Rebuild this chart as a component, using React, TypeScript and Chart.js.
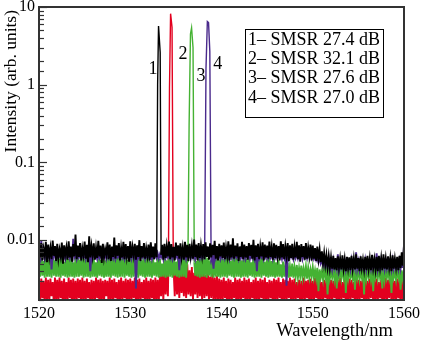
import React, { useEffect, useRef } from "react";
import { Chart, registerables } from "chart.js";

Chart.register(...registerables);

// ---- Data ----
// Noise floors sampled every 0.125 nm from 1520 nm, values in units of 1e-4 (arb. units)
const wavelengthStart = 1520;
const wavelengthStep = 0.125;
const noiseUnit = 1e-4;
const xTicks = [1520, 1530, 1540, 1550, 1560];
const yMajorTicks = [0.01, 0.1, 1, 10];
const smsrValues = [27.4, 32.1, 27.6, 27.0];
const seriesColors = ["#000000", "#e3001f", "#45b233", "#4a2a8c"];

const blackNoise = [
  85,60,92,55,78,64,95,52,88,61,80,57,99,63,84,54,
  90,58,76,62,93,50,86,65,81,56,97,60,83,53,89,62,
  118,57,85,61,92,55,79,64,96,58,87,52,112,60,84,63,
  91,56,80,59,98,62,85,51,90,60,77,65,94,57,88,54,
  83,61,108,58,86,63,92,55,80,60,95,57,89,62,84,53,
  97,59,82,64,90,56,86,61,100,54,84,60,92,58,79,63,
  88,55,94,60,83,57,91,62,85,58,93,61,87,56,90,59,
  84,62,96,57,89,60,82,55,93,63,86,58,91,61,80,56,
  95,60,87,54,90,62,84,58,102,61,88,55,92,59,85,63,
  89,57,94,61,83,56,91,60,87,64,98,58,84,55,90,62,
  86,59,93,57,81,63,97,55,88,60,106,58,85,62,91,54,
  83,61,95,57,88,60,84,56,92,63,87,58,101,55,86,61,
  90,57,83,62,94,55,88,60,85,58,96,61,82,56,91,59,
  87,62,84,55,97,60,89,57,83,63,92,54,86,59,90,56,
  81,60,95,57,86,53,89,61,84,56,92,58,80,62,88,55,
  85,58,79,54,83,57,76,52,72,50,68,48,64,45,62,44,
  60,43,63,42,59,41,62,44,58,42,64,43,57,40,61,44,
  60,41,63,43,58,42,66,43,59,40,62,44,56,42,61,41,
  63,43,58,41,65,44,57,42,61,40,63,44,59,41,66,43,
  58,42,62,44,59,40,64,43,58,44,61,41,63,44,70,47,
  85,
];

const greenNoise = [
  58,34,62,35,54,33,66,34,56,34,60,33,71,35,55,34,
  63,34,58,33,61,35,53,34,68,33,57,34,64,34,52,33,
  60,34,75,34,56,35,62,33,57,34,65,34,54,33,61,34,
  58,34,52,33,63,35,56,34,60,33,55,34,62,34,57,33,
  66,35,59,34,63,33,70,34,58,34,80,33,61,35,56,34,
  64,33,59,34,72,34,57,33,62,35,55,34,68,33,58,34,
  61,34,54,33,59,35,52,34,63,33,57,34,50,34,60,33,
  55,34,62,34,58,33,66,35,53,34,61,33,57,34,64,34,
  59,33,56,34,63,34,58,33,60,35,54,34,67,33,62,34,
  57,34,65,33,59,35,55,34,70,33,58,34,63,34,56,33,
  61,34,57,34,66,33,59,35,54,34,62,33,73,34,58,34,
  60,33,55,34,63,34,57,33,61,35,52,34,64,33,58,34,
  56,34,62,33,59,35,53,34,57,33,60,34,54,34,58,33,
  52,34,56,34,49,33,53,34,47,34,51,33,46,34,50,33,
  45,34,48,33,44,34,47,33,43,34,46,32,44,33,42,34,
  45,33,41,32,44,22,42,33,40,31,43,33,41,20,44,32,
  40,33,43,31,39,24,42,33,41,32,44,33,40,21,43,32,
  41,33,38,32,42,23,40,33,44,31,39,33,42,20,41,32,
  43,33,40,31,42,22,39,33,41,32,43,33,40,24,42,31,
  44,33,40,32,41,21,43,33,39,31,42,33,40,23,41,32,
  40,
];

const redNoise = [
  31,16,32,18,30,15,33,17,31,16,32,19,29,15,33,17,
  31,16,33,18,30,15,32,17,29,16,33,18,31,15,32,17,
  30,16,32,18,31,15,33,17,30,16,32,18,29,15,31,17,
  30,16,33,18,31,15,32,17,30,16,31,19,30,15,33,17,
  31,16,32,18,29,15,31,17,33,16,30,18,32,15,31,17,
  32,16,30,18,33,15,31,17,32,16,29,18,31,15,33,17,
  30,16,32,18,31,15,33,17,31,16,35,19,38,17,42,20,
  45,19,40,18,48,21,43,19,50,20,41,18,46,21,39,19,
  44,18,49,20,41,19,45,17,38,20,47,18,42,19,37,17,
  43,18,36,19,40,17,34,18,38,16,33,17,35,16,32,17,
  31,16,33,18,30,15,32,17,31,16,29,18,33,15,31,17,
  32,16,30,18,33,15,31,17,32,16,29,18,31,15,33,17,
  30,16,32,18,31,15,33,17,29,16,31,18,30,15,32,17,
  31,16,33,18,29,15,32,17,31,16,30,18,33,15,31,17,
  32,16,29,18,31,15,30,17,33,16,30,18,31,15,32,17,
  30,16,33,18,31,15,32,17,29,16,31,18,30,15,33,17,
  31,16,30,18,32,15,31,17,33,16,29,18,31,15,30,17,
  32,16,31,18,29,15,33,17,31,16,30,18,32,15,31,17,
  30,16,32,18,41,15,31,17,32,16,29,18,31,15,30,17,
  33,16,31,18,45,15,32,17,30,16,32,18,31,15,33,17,
  31,
];

const purpleNoise = [
  66,58,98,60,67,57,68,59,65,58,69,42,66,60,72,58,
  67,59,66,60,68,58,65,57,69,60,66,58,67,59,104,60,
  66,57,68,60,67,58,65,59,68,57,66,60,69,40,67,58,
  68,60,65,57,67,59,66,58,68,60,67,57,66,59,69,58,
  65,58,67,57,66,60,68,58,67,59,65,57,68,60,66,58,
  67,57,66,60,68,24,67,59,65,58,68,60,66,57,67,59,
  66,58,68,57,67,60,65,59,68,58,66,60,67,57,68,59,
  67,60,66,58,65,57,68,59,66,60,67,41,68,58,65,59,
  68,57,67,60,66,58,65,59,67,57,68,60,66,58,67,59,
  66,58,67,57,68,60,65,59,67,43,66,58,68,60,67,57,
  65,59,68,58,66,60,67,57,68,59,65,58,67,60,66,57,
  68,59,66,58,67,57,65,60,68,58,67,59,66,57,68,40,
  67,58,66,60,68,57,65,59,67,58,66,60,68,57,67,59,
  65,58,68,60,66,57,67,59,68,26,66,58,67,60,65,57,
  68,59,67,58,66,60,68,57,67,59,65,58,68,60,66,58,
  65,57,62,55,60,52,58,50,56,48,55,46,54,44,58,43,
  52,42,55,44,51,43,66,42,53,44,50,43,54,42,52,44,
  51,42,55,43,52,44,70,43,53,42,54,44,51,43,55,42,
  53,44,50,42,54,43,52,44,68,42,51,43,55,44,52,42,
  54,43,51,44,53,42,55,43,52,44,50,42,54,43,56,44,
  88,
];

// Lasing peaks (wavelength nm, intensity arb. units)
const blackPeakX = [1532.9, 1533.0, 1533.1, 1533.28, 1533.38];
const blackPeakY = [0.0075, 1.0, 5.7, 2.6, 0.0065];
const redPeakX = [1534.18, 1534.3, 1534.42, 1534.58, 1534.72];
const redPeakY = [0.0048, 0.9, 8.2, 5.5, 0.0042];
const greenPeakX = [1536.32, 1536.45, 1536.6, 1536.72, 1536.88, 1537.02];
const greenPeakY = [0.0055, 0.3, 4.5, 5.4, 3.0, 0.0052];
const purplePeakX = [1538.15, 1538.3, 1538.45, 1538.58, 1538.72, 1538.86];
const purplePeakY = [0.006, 1.6, 6.5, 6.3, 2.7, 0.006];

// Peak number labels (wavelength, intensity)
const peakLabelText = ["1", "2", "3", "4"];
const peakLabelX = [1532.49, 1535.78, 1537.75, 1539.6];
const peakLabelY = [1.56, 2.5, 1.27, 1.81];

const FONT = '"Liberation Serif", "Times New Roman", serif';

function buildSeries(noise: number[], peakX: number[], peakY: number[]) {
  const lo = peakX[0];
  const hi = peakX[peakX.length - 1];
  const pts: { x: number; y: number }[] = [];
  noise.forEach((v, i) => {
    const x = wavelengthStart + i * wavelengthStep;
    if (x < lo || x > hi) pts.push({ x, y: v * noiseUnit });
  });
  peakX.forEach((x, i) => pts.push({ x, y: peakY[i] }));
  pts.sort((a, b) => a.x - b.x);
  return pts;
}

const isMajor = (v: number) => Math.abs(Math.log10(v) - Math.round(Math.log10(v))) < 1e-6;

const decorPlugin = {
  id: "decor",
  afterDatasetsDraw(chart: any) {
    const { ctx, chartArea, scales } = chart;
    const { left, right, top, bottom } = chartArea;
    ctx.save();
    // inward ticks on the left axis
    ctx.strokeStyle = "#333";
    ctx.lineWidth = 1.2;
    scales.y.ticks.forEach((t: any) => {
      const py = scales.y.getPixelForValue(t.value);
      if (py < top - 0.5 || py > bottom + 0.5) return;
      const len = isMajor(t.value) ? 8 : 5;
      ctx.beginPath();
      ctx.moveTo(left, Math.round(py) + 0.5);
      ctx.lineTo(left + len, Math.round(py) + 0.5);
      ctx.stroke();
    });
    // frame
    ctx.strokeStyle = "#333";
    ctx.lineWidth = 2;
    ctx.strokeRect(left, top, right - left, bottom - top);

    // peak labels
    ctx.fillStyle = "#000";
    ctx.font = `18px ${FONT}`;
    ctx.textAlign = "center";
    ctx.textBaseline = "middle";
    peakLabelText.forEach((s, i) => {
      ctx.fillText(s, scales.x.getPixelForValue(peakLabelX[i]), scales.y.getPixelForValue(peakLabelY[i]));
    });

    // legend box
    const bx = 245.5, by = 29.5, bw = 138, bh = 88;
    ctx.fillStyle = "#fff";
    ctx.fillRect(bx, by, bw, bh);
    ctx.strokeStyle = "#000";
    ctx.lineWidth = 1;
    ctx.strokeRect(bx, by, bw, bh);
    ctx.fillStyle = "#000";
    ctx.font = `18px ${FONT}`;
    ctx.textAlign = "left";
    ctx.textBaseline = "middle";
    smsrValues.forEach((v, i) => {
      ctx.fillText(`${i + 1}\u2013 SMSR ${v.toFixed(1)} dB`, 248, 40 + i * 19.3);
    });

    // axis titles
    ctx.font = `18.5px ${FONT}`;
    ctx.textAlign = "right";
    ctx.textBaseline = "middle";
    ctx.fillText("Wavelength/nm", 393, 331);
    ctx.font = `17.5px ${FONT}`;
    ctx.translate(11, 10);
    ctx.rotate(-Math.PI / 2);
    ctx.fillText("Intensity (arb. units)", 0, 0);
    ctx.restore();
  },
};

export default function App() {
  const ref = useRef<HTMLCanvasElement | null>(null);
  useEffect(() => {
    if (!ref.current) return;
    const series = [
      buildSeries(blackNoise, blackPeakX, blackPeakY),
      buildSeries(purpleNoise, purplePeakX, purplePeakY),
      buildSeries(greenNoise, greenPeakX, greenPeakY),
      buildSeries(redNoise, redPeakX, redPeakY),
    ];
    const colors = [seriesColors[0], seriesColors[3], seriesColors[2], seriesColors[1]];
    const chart = new Chart(ref.current, {
      type: "line",
      data: {
        datasets: series.map((d, i) => ({
          data: d,
          borderColor: colors[i],
          borderWidth: 1.9,
          pointRadius: 0,
          tension: 0,
          fill: false,
          segment: {
            borderWidth: (c: any) => (c.p0.parsed.y > 0.02 || c.p1.parsed.y > 0.02 ? 1.4 : 1.9),
          },
        })),
      },
      options: {
        animation: false,
        responsive: true,
        maintainAspectRatio: false,
        layout: { padding: { top: 7, right: 17, left: 0, bottom: 0 } },
        plugins: { legend: { display: false }, tooltip: { enabled: false } },
        scales: {
          x: {
            type: "linear",
            min: xTicks[0],
            max: xTicks[xTicks.length - 1],
            afterBuildTicks: (s: any) => {
              s.ticks = xTicks.map((v) => ({ value: v }));
            },
            afterFit: (s: any) => {
              s.height = 41;
              s.paddingLeft = 0;
              s.paddingRight = 0;
            },
            grid: { display: false, drawTicks: false },
            border: { display: false },
            ticks: {
              color: "#000",
              font: { family: FONT, size: 16 },
              padding: 4,
              maxRotation: 0,
              autoSkip: false,
              callback: (v: any) => String(v),
            },
          },
          y: {
            type: "logarithmic",
            min: 0.0017,
            max: 10,
            afterFit: (s: any) => {
              s.width = 39;
              s.paddingTop = 0;
              s.paddingBottom = 0;
            },
            grid: { display: false, drawTicks: false },
            border: { display: false },
            ticks: {
              color: "#000",
              font: { family: FONT, size: 16 },
              padding: 4,
              autoSkip: false,
              callback: (v: any) => (isMajor(v) && yMajorTicks.some((m) => Math.abs(m - v) < 1e-9) ? String(Number(v.toPrecision(1))) : ""),
            },
          },
        },
      },
      plugins: [decorPlugin],
    });
    return () => chart.destroy();
  }, []);
  return (
    <div style={{ position: "fixed", left: 0, top: 0, width: 421, height: 341, background: "#fff" }}>
      <canvas ref={ref} />
    </div>
  );
}
